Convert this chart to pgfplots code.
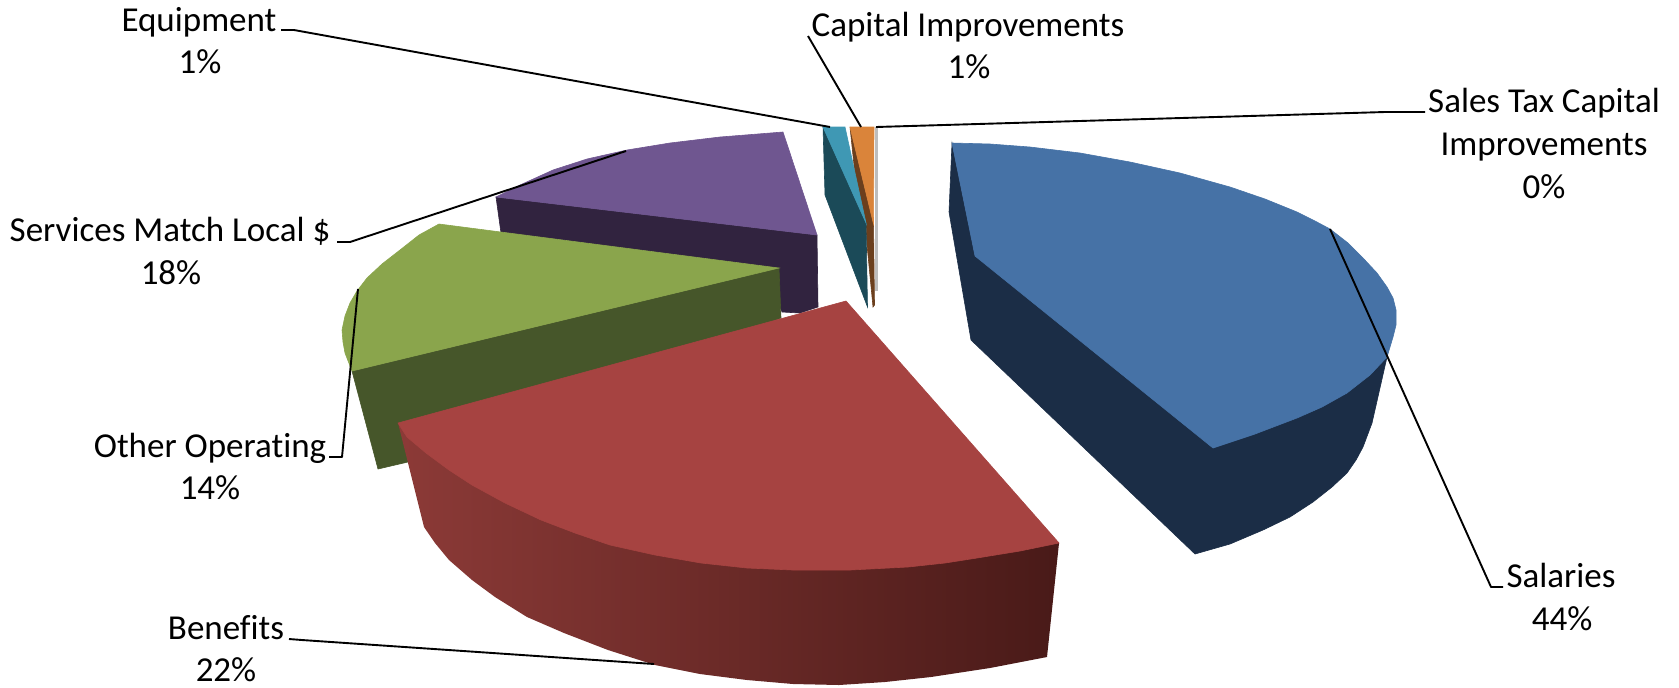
\documentclass[border=0pt]{standalone}
\usepackage{fontspec}
\setmainfont[Ligatures=NoCommon]{Carlito}
\usepackage{pgfplots}
\pgfplotsset{compat=1.18}

% Slice colours: top faces and side walls
\definecolor{blueTop}{HTML}{4672A6}
\definecolor{blueSide}{HTML}{1B2D46}
\definecolor{redTop}{HTML}{A64341}
\definecolor{redSideL}{HTML}{8C3A37}
\definecolor{redSideM}{HTML}{682A28}
\definecolor{redSideR}{HTML}{491A18}
\definecolor{greenTop}{HTML}{8AA54C}
\definecolor{greenSide}{HTML}{46562A}
\definecolor{purpleTop}{HTML}{6F5690}
\definecolor{purpleSide}{HTML}{31233F}
\definecolor{tealTop}{HTML}{3F98B4}
\definecolor{tealSide}{HTML}{1B4A58}
\definecolor{orangeTop}{HTML}{DA843A}
\definecolor{orangeSide}{HTML}{6B3F1D}
\definecolor{sliver}{HTML}{BDBDBD}

\pgfplotsset{
  face/.style={draw=#1, line width=0.3pt, fill=#1, forget plot},
  leader/.style={black, line width=0.95pt, line join=round, forget plot, no marks},
}
\newcommand{\lbl}[3]{\node[anchor=base, inner sep=0pt, font=\fontsize{17.5}{21}\selectfont] at (axis cs:#1,#2) {#3};}

\begin{document}
\begin{tikzpicture}
\begin{axis}[
  scale only axis, width=839.5pt, height=343.5pt,
  xmin=0, xmax=1679, ymin=0, ymax=687, y dir=reverse,
  hide axis, clip=false,
]
% Picture frame keeps the full extent
\addplot[draw=none, forget plot] coordinates {(0,0)(1679,687)};

% Sales Tax Capital Improvements
\addplot[face=sliver] coordinates {(875.5,127)(877.5,127)(877.5,290)(875.5,290)} -- cycle;

% Capital Improvements
\addplot[face=orangeSide] coordinates {(850,127)(873.5,224)(874.5,305)(873,307)(867,245)(866,223)(855,175)} -- cycle;
\addplot[face=orangeTop] coordinates {(850,127)(874,127)(873.5,224)} -- cycle;

% Equipment
\addplot[face=tealSide] coordinates {(823,127)(866,223)(867.5,307)(825,195)} -- cycle;
\addplot[face=tealTop] coordinates {(823,127)(845,127)(866,223)} -- cycle;

% Services Match Local $
\addplot[face=purpleSide] coordinates {(496,197)(817,235)(818,307)(800,313)(782,312)(770,280)(501,233)} -- cycle;
\addplot[face=purpleTop] coordinates {(496,197)(520,185)(553,170)(587,159)(627,150)(670,143)(720,137)(783,132)(817,235)} -- cycle;

% Other Operating
\addplot[face=greenSide] coordinates {(352,371)(779,268)(781,318)(408,462)(378,469)} -- cycle;
\addplot[face=greenTop] coordinates {(439,224)(419,235)(400,250)(382,264)(367,278)(357,291)(350,303)(345,316)(342,330)(343,342)(345,353)(352,371)(779,268)} -- cycle;

% Benefits
\addplot[draw=none, left color=redSideL, middle color=redSideM, right color=redSideR, forget plot]
  coordinates {(398,423)(424,527)(435,543)(449,560)(472,580)(495,597)(527,617)(564,633)(608,650)(655,665)(700,674)(747,680)(793,684)(839,685)(885,682)(931,677)(990,668)(1047,657)(1059,543)} -- cycle;
\addplot[face=redTop] coordinates {(398,423)(407,437)(426,453)(449,470)(472,485)(505,503)(541,520)(575,533)(610,545)(655,555)(701,563)(747,568)(793,570)(850,570)(908,567)(945,563)(977,558)(1020,551)(1059,543)(846,301)} -- cycle;

% Salaries
\addplot[face=blueSide] coordinates {(952,143)(949,212)(971,340)(1195,554)(1230,544)(1263,530)(1290,517)(1313,502)(1332,487)(1347,473)(1356,460)(1363,447)(1372,423)(1387,357)(975,256)} -- cycle;
\addplot[face=blueTop] coordinates {(952,143)(990,144)(1030,147)(1080,153)(1130,162)(1180,173)(1230,187)(1265,199)(1297,212)(1315,221)(1330,229)(1348,243)(1363,258)(1377,273)(1387,287)(1393,298)(1396,310)(1396,325)(1393,337)(1387,357)(1370,375)(1347,393)(1322,407)(1297,418)(1255,434)(1213,448)(975,256)} -- cycle;

% Leader lines from labels to slices
\addplot[leader] coordinates {(281,30)(294,30)(830,127)};
\addplot[leader] coordinates {(808,36)(861,127)};
\addplot[leader] coordinates {(876,127)(1385,112)(1425,112)};
\addplot[leader] coordinates {(337,242)(350,242)(626,151)};
\addplot[leader] coordinates {(329,457)(342,457)(358,289)};
\addplot[leader] coordinates {(1330,229)(1491,587)(1503,587)};
\addplot[leader] coordinates {(289,639)(302,640)(654,664)};

% Labels
\lbl{199}{31}{Equipment}
\lbl{200}{73}{1\%}
\lbl{968}{36}{Capital Improvements}
\lbl{969}{78}{1\%}
\lbl{1544}{112}{Sales Tax Capital}
\lbl{1544}{155}{Improvements}
\lbl{1544}{198}{0\%}
\lbl{170}{241}{Services Match Local \$}
\lbl{171}{284}{18\%}
\lbl{210}{457}{Other Operating}
\lbl{210}{499}{14\%}
\lbl{226}{639}{Benefits}
\lbl{226}{681}{22\%}
\lbl{1561}{587}{Salaries}
\lbl{1562}{630}{44\%}
\end{axis}
\end{tikzpicture}
\end{document}
